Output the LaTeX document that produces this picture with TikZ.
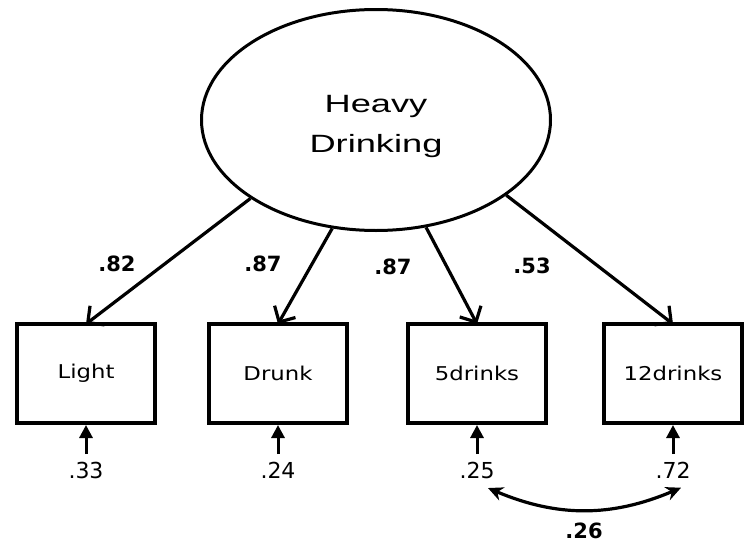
\documentclass[tikz,border=0pt]{standalone}
\usepackage{fontspec}
\newfontfamily\latfont[FakeStretch=1.45]{Liberation Sans}
\newfontfamily\obsfont[FakeStretch=1.2]{DejaVu Sans}
\newfontfamily\numfont{DejaVu Sans}
\usetikzlibrary{positioning,arrows.meta,shapes.geometric}

\begin{document}
\begin{tikzpicture}[x=1pt, y=1pt,
  latent/.style={draw, ellipse, line width=3pt, inner sep=0pt, minimum width=349pt, minimum height=221pt,
    align=center, font=\latfont\fontsize{25}{40}\selectfont},
  obs/.style={draw, rectangle, line width=3.8pt, outer sep=0pt, minimum width=138pt, minimum height=99pt,
    font=\obsfont\fontsize{19}{23}\selectfont},
  load/.style={font=\numfont\bfseries\fontsize{21}{25}\selectfont, inner sep=0pt},
  err/.style={font=\numfont\fontsize{22}{26}\selectfont, inner sep=0pt},
  loading/.style={line width=3.2pt, -{Straight Barb[length=12pt,width=24pt]}},
  residual/.style={line width=3pt, -{Triangle[length=13pt,width=13pt]}},
  corr/.style={line width=3.2pt, {Stealth[length=15pt,width=14pt]}-{Stealth[length=15pt,width=14pt]}}]
  \useasboundingbox (0,0) rectangle (747,-546);

  % factor and indicators
  \node[latent] (hd) at (376,-120) {\rule{0pt}{30pt}Heavy\\Drinking};
  \node[obs] (light) at (86,-373.5) {Light};
  \node[obs, right=54pt of light] (drunk) {Drunk};
  \node[obs, right=61pt of drunk] (five) {5drinks};
  \node[obs, right=58pt of five] (twelve) {12drinks};

  % loadings
  \draw[loading] (hd.-148.6) -- (light.north);
  \draw[loading] (hd.-112.7) -- (drunk.north);
  \draw[loading] (hd.-65.5) -- (five.north);
  \draw[loading] (hd.-30.5) -- (twelve.north);
  \node[load] (l1) at (117,-264) {.82};
  \node[load] (l2) at (263,-264) {.87};
  \node[load] (l3) at (393,-267) {.87};
  \node[load] (l4) at (532,-266) {.53};

  % residuals
  \node[err, below=39pt of light] (e1) {.33};
  \node[err, below=39pt of drunk] (e2) {.24};
  \node[err, below=39pt of five] (e3) {.25};
  \node[err, below=39pt of twelve] (e4) {.72};
  \foreach \e/\v in {e1/light, e2/drunk, e3/five, e4/twelve}
    \draw[residual] ([yshift=8pt]\e.north) -- ([yshift=-2pt]\v.south);

  % residual covariance
  \draw[corr] ([xshift=11pt,yshift=-9pt]e3.south) to[bend right=23] ([xshift=8pt,yshift=-9pt]e4.south);
  \node[load] (c34) at (584,-531) {.26};
\end{tikzpicture}
\end{document}
